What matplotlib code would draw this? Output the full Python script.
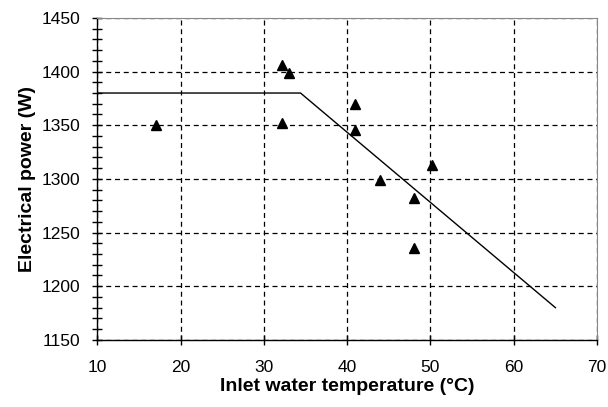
import numpy as np
import matplotlib
matplotlib.use("Agg")
import matplotlib.pyplot as plt
from matplotlib.ticker import MultipleLocator

plt.rcParams['font.family'] = ['Liberation Sans', 'DejaVu Sans']

# measured points
inlet_temp = [17, 32.2, 33.0, 32.2, 41, 41, 44, 48, 48, 50.2]
power = [1350, 1406, 1399, 1352, 1370, 1346, 1299, 1282, 1236, 1313]

# model curve (flat, then linear drop)
model_temp = [10, 34.4, 65]
model_power = [1380, 1380, 1180]

fig = plt.figure(figsize=(6.08, 4.07), dpi=100)
ax = fig.add_axes([0.160, 0.165, 0.822, 0.791])

ax.plot(model_temp, model_power, color="black", lw=1.0, zorder=3)
ax.plot(inlet_temp, power, linestyle="none", marker="^", color="black",
        markersize=7.5, zorder=4)

ax.set_xlim(10, 70)
ax.set_ylim(1150, 1450)
ax.xaxis.set_major_locator(MultipleLocator(10))
ax.yaxis.set_major_locator(MultipleLocator(50))
ax.yaxis.set_minor_locator(MultipleLocator(10))

ax.grid(True, which="major", color="black", linestyle=(0, (4, 3)), lw=0.9)
ax.set_axisbelow(True)

for side in ["top", "right"]:
    ax.spines[side].set_color("#888888")
    ax.spines[side].set_linewidth(0.8)
for side in ["left", "bottom"]:
    ax.spines[side].set_color("black")
    ax.spines[side].set_linewidth(1.0)

ax.tick_params(which="major", direction="inout", length=7, width=1.0,
               labelsize=12.5, colors="black")
ax.tick_params(which="minor", direction="inout", length=7, width=1.0)
ax.tick_params(axis="y", pad=9)
ax.tick_params(axis="x", pad=11)

ax.set_xlabel("Inlet water temperature (°C)", fontsize=14, fontweight="bold",
              labelpad=2)
ax.set_ylabel("Electrical power (W)", fontsize=14, fontweight="bold",
              labelpad=4)

fig.savefig("out.png", dpi=100)
